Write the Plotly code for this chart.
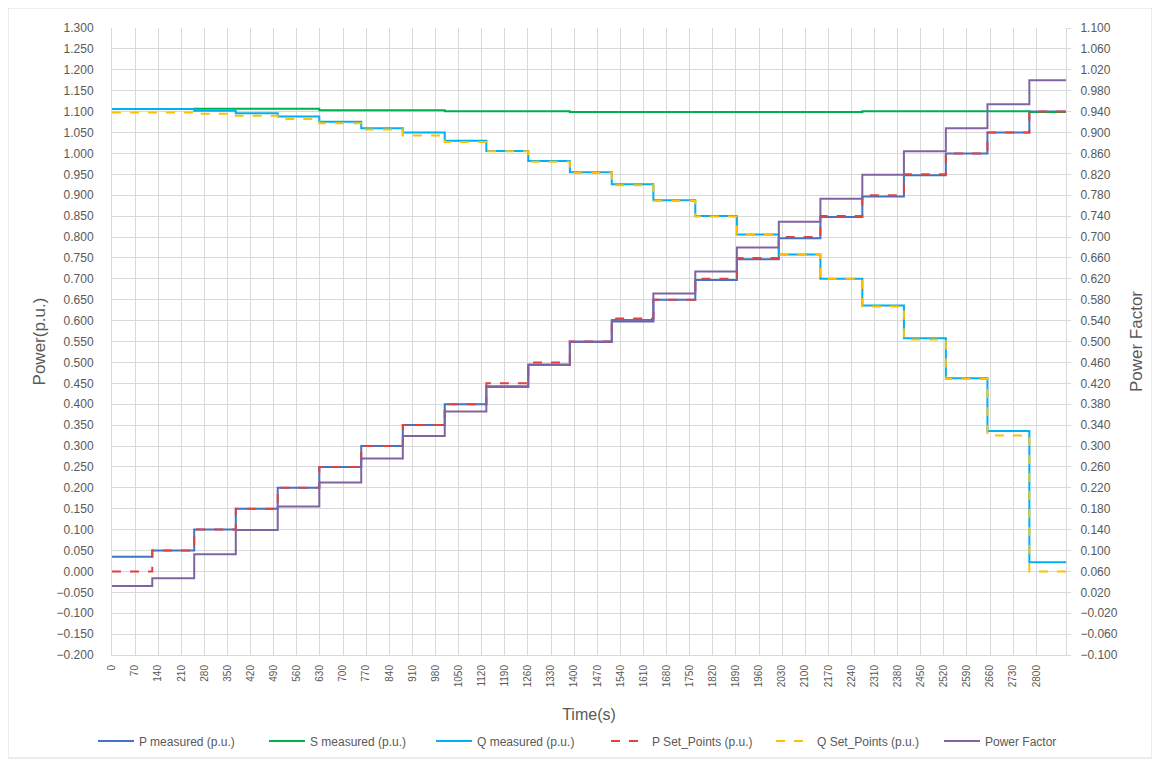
import plotly.graph_objects as go

# ---- data ----
step_start_s = [0, 122, 249, 375, 502, 628, 755, 881, 1008, 1134, 1261, 1387,
                1514, 1640, 1767, 1893, 2020, 2146, 2273, 2399, 2526, 2652, 2779]
end_time_s = 2890

p_measured = [0.035, 0.050, 0.100, 0.150, 0.200, 0.250, 0.300, 0.350, 0.400, 0.443,
              0.495, 0.549, 0.598, 0.650, 0.697, 0.747, 0.797, 0.848, 0.897, 0.948,
              1.000, 1.050, 1.100]
s_measured = [1.106, 1.106, 1.107, 1.107, 1.107, 1.103, 1.103, 1.103, 1.101, 1.101,
              1.101, 1.099, 1.099, 1.099, 1.099, 1.099, 1.099, 1.099, 1.101, 1.101,
              1.101, 1.101, 1.099]
q_measured = [1.106, 1.106, 1.102, 1.096, 1.088, 1.076, 1.060, 1.050, 1.030, 1.006,
              0.982, 0.955, 0.926, 0.888, 0.850, 0.806, 0.758, 0.700, 0.636, 0.558,
              0.462, 0.336, 0.022]
p_set = [0.000, 0.050, 0.100, 0.150, 0.200, 0.250, 0.300, 0.350, 0.400, 0.450,
         0.500, 0.550, 0.605, 0.650, 0.700, 0.750, 0.800, 0.850, 0.900, 0.950,
         1.000, 1.050, 1.100]
q_set = [1.098, 1.098, 1.095, 1.090, 1.082, 1.072, 1.057, 1.043, 1.027, 1.005,
         0.980, 0.953, 0.924, 0.886, 0.849, 0.806, 0.757, 0.700, 0.634, 0.555,
         0.460, 0.325, 0.000]
power_factor = [0.032, 0.047, 0.093, 0.139, 0.184, 0.230, 0.276, 0.319, 0.366, 0.413,
                0.455, 0.500, 0.541, 0.592, 0.634, 0.680, 0.729, 0.773, 0.819, 0.864,
                0.908, 0.954, 1.000]

x_tick_vals = list(range(0, 2801, 70))

# ---- styling ----
GRID = "#D9D9D9"
TXT = "#595959"
FONT = "Liberation Sans"
W, H = 1152, 758  # page body has an 8px margin
legend_x_px = [85, 256, 423, 598, 763, 931]
legend_y_px = 733

x = step_start_s + [end_time_s]


def ext(v):
    return v + [v[-1]]


series = [
    ("P measured (p.u.)", p_measured, "#4472C4", "solid", "y"),
    ("S measured (p.u.)", s_measured, "#00B050", "solid", "y"),
    ("Q measured (p.u.)", q_measured, "#00B0F0", "solid", "y"),
    ("P Set_Points (p.u.)", p_set, "#E0433F", "dash", "y"),
    ("Q Set_Points (p.u.)", q_set, "#FFC000", "dash", "y"),
    ("Power Factor", power_factor, "#8064A2", "solid", "y2"),
]

fig = go.Figure()
legend_layout = {}
for i, (name, vals, col, dash, ax) in enumerate(series):
    lg = "legend" if i == 0 else f"legend{i + 1}"
    fig.add_trace(go.Scatter(
        x=x, y=ext(vals), name=name, mode="lines", yaxis=ax, legend=lg,
        line=dict(color=col, width=2, dash=dash, shape="hv"),
    ))
    legend_layout[lg] = dict(
        orientation="h", xref="container", yref="container",
        x=legend_x_px[i] / W, xanchor="left", y=(H - legend_y_px) / H, yanchor="middle",
        font=dict(size=12, color=TXT, family=FONT), itemwidth=36,
        bgcolor="rgba(0,0,0,0)",
    )

fig.update_layout(
    width=W, height=H,
    margin=dict(l=104, r=94, t=20, b=111, autoexpand=False),
    paper_bgcolor="white", plot_bgcolor="white",
    font=dict(family=FONT, color=TXT, size=10),
    showlegend=True,
    **legend_layout,
    xaxis=dict(
        range=[0, end_time_s], tickmode="array", tickvals=x_tick_vals,
        ticktext=[str(v) for v in x_tick_vals], tickangle=-90,
        showgrid=True, gridcolor=GRID, gridwidth=1, automargin=False,
        showline=True, linecolor=GRID, linewidth=1, mirror=False,
        ticks="", ticklabelstandoff=5, zeroline=False,
        tickfont=dict(size=10, color=TXT, family=FONT),
        title=dict(text="Time(s)", font=dict(size=16, color=TXT, family=FONT), standoff=22),
    ),
    yaxis=dict(
        range=[-0.2, 1.3], dtick=0.05, tick0=0, tickformat=".3f",
        showgrid=True, gridcolor=GRID, gridwidth=1, zeroline=False, automargin=False,
        showline=True, linecolor=GRID, linewidth=1,
        ticks="", ticklabelstandoff=15,
        tickfont=dict(size=12, color=TXT, family=FONT),
        title=dict(text="Power(p.u.)", font=dict(size=17, color=TXT, family=FONT), standoff=6),
    ),
    yaxis2=dict(
        range=[-0.1, 1.1], dtick=0.04, tick0=0.06, tickformat=".3f",
        overlaying="y", side="right", showgrid=False, zeroline=False, automargin=False,
        showline=True, linecolor=GRID, linewidth=1,
        ticks="outside", ticklen=4, tickcolor=GRID, ticklabelstandoff=7,
        tickfont=dict(size=12, color=TXT, family=FONT),
        title=dict(text="Power Factor", font=dict(size=17, color=TXT, family=FONT), standoff=13),
    ),
    shapes=[dict(type="rect", xref="paper", yref="paper",
                 x0=(0 - 104) / 954, x1=(1144 - 104) / 954,
                 y0=(647 - 750) / 627, y1=(647 - 0) / 627,
                 line=dict(color="#D9D9D9", width=1), fillcolor="rgba(0,0,0,0)", layer="below")],
)

fig.write_html("out.html")
